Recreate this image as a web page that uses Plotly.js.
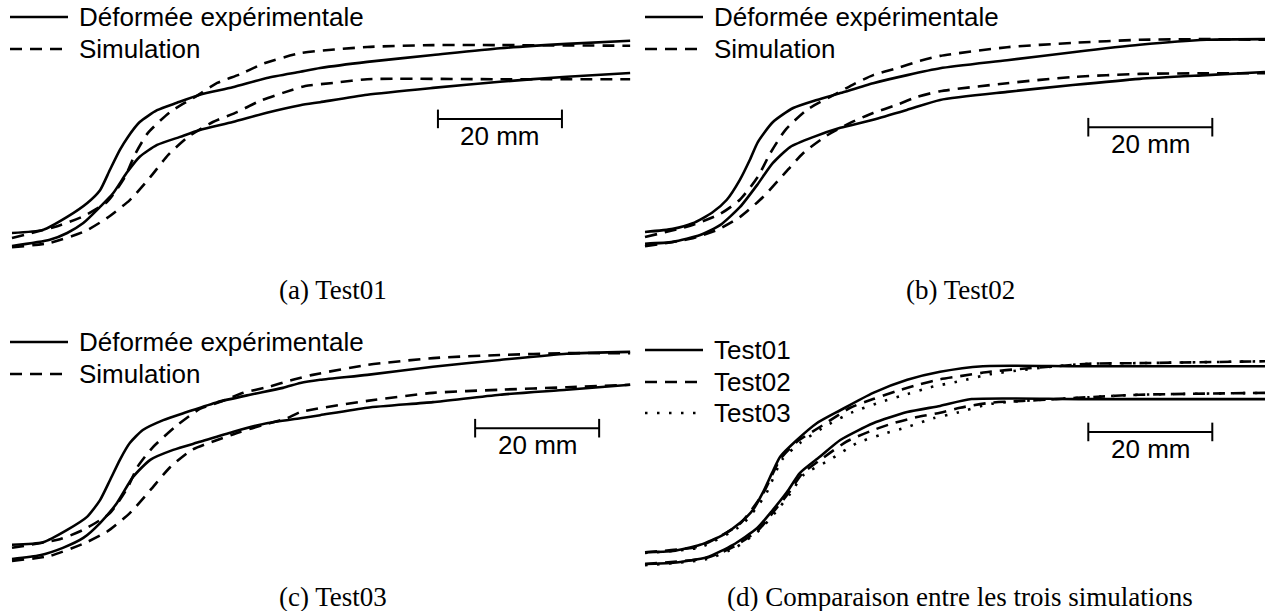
<!DOCTYPE html>
<html>
<head>
<meta charset="utf-8">
<script src="https://cdn.plot.ly/plotly-3.0.1.min.js"></script>
<style>html,body{margin:0;padding:0;background:#fff;}#chart{width:1267px;height:611px;}</style>
</head>
<body>
<div id="chart"></div>
<script>
// ---------- DATA (mm) ----------
// (a) Test01
const a_expTop_x = [0, 5.0, 8.9, 12.1, 14.2, 15.8, 17.4, 18.7, 20.6, 23.4, 26.6, 30.3, 35.6, 41.1, 46.5, 49.7, 57.3, 67.9, 78.7, 89.5, 99.7];
const a_expTop_y = [2.1, 2.6, 4.7, 6.9, 9.0, 12.3, 15.5, 17.6, 20.0, 21.9, 23.1, 24.4, 25.6, 27.1, 28.1, 28.7, 29.7, 30.8, 31.9, 32.6, 33.1];
const a_expBot_x = [0, 6.1, 8.9, 11.5, 14.2, 16.3, 18.5, 20.6, 23.4, 27.1, 30.3, 35.6, 41.1, 46.5, 49.7, 57.3, 67.9, 78.7, 89.5, 99.7];
const a_expBot_y = [0, 1.0, 2.1, 3.7, 6.3, 8.5, 11.8, 14.4, 16.3, 17.6, 18.7, 20.0, 21.5, 22.7, 23.2, 24.4, 25.5, 26.5, 27.3, 27.9];
const a_simTop_x = [0, 7.3, 11.5, 15.3, 18.2, 19.8, 21.9, 25.5, 29.8, 33.1, 36.8, 40.5, 46.5, 57.3, 67.9, 78.7, 99.7];
const a_simTop_y = [1.3, 3.2, 4.8, 7.1, 11.1, 14.7, 18.2, 21.6, 24.2, 26.3, 27.7, 29.4, 31.1, 32.1, 32.4, 32.4, 32.3];
const a_simBot_x = [0, 6.1, 11.8, 15.3, 19.0, 22.3, 25.2, 28.4, 32.4, 36.3, 40.0, 43.7, 47.3, 51.8, 57.3, 78.7, 99.7];
const a_simBot_y = [-0.2, 0.5, 2.4, 4.5, 7.4, 11.1, 14.7, 17.6, 20.0, 21.6, 23.4, 24.7, 25.8, 26.3, 26.9, 26.9, 26.9];
// (b) Test02
const b_expTop_x = [0, 4.5, 7.7, 10.8, 13.2, 15.3, 16.9, 18.2, 20.6, 23.9, 27.7, 31.5, 36.8, 42.3, 47.6, 58.4, 69.0, 79.8, 90.6, 100];
const b_expTop_y = [2.1, 2.6, 3.5, 5.2, 7.3, 10.5, 13.7, 16.6, 19.8, 22.1, 23.4, 24.5, 26.1, 27.4, 28.5, 29.8, 31.1, 32.3, 33.1, 33.2];
const b_expBot_x = [0, 4.5, 8.9, 12.1, 15.3, 18.1, 20.6, 23.4, 27.1, 31.5, 36.8, 42.3, 47.6, 58.4, 69.0, 79.8, 90.6, 100];
const b_expBot_y = [0.2, 0.5, 1.6, 3.2, 6.1, 9.7, 13.2, 15.8, 17.4, 18.9, 20.2, 21.8, 23.4, 24.7, 25.8, 26.8, 27.4, 27.9];
const b_simTop_x = [0, 7.3, 12.1, 15.3, 18.2, 20.2, 22.6, 26.1, 31.0, 33.4, 36.8, 40.6, 44.4, 47.6, 58.4, 69.0, 79.8, 90.6, 100];
const b_simTop_y = [1.3, 3.1, 5.0, 7.3, 11.0, 14.8, 18.5, 21.8, 24.5, 25.8, 27.4, 28.5, 29.7, 30.5, 31.9, 32.6, 33.1, 33.2, 33.1];
const b_simBot_x = [0, 7.3, 11.6, 15.3, 19.0, 22.3, 25.5, 29.4, 33.1, 36.8, 40.6, 43.9, 47.6, 58.4, 69.0, 79.8, 90.6, 100];
const b_simBot_y = [-0.2, 1.0, 2.4, 4.5, 7.7, 11.3, 14.8, 17.7, 19.7, 21.3, 22.6, 23.9, 24.8, 26.1, 27.1, 27.6, 27.7, 27.7];
// (c) Test03
const c_expTop_x = [0, 5.0, 8.9, 12.1, 14.2, 15.8, 17.4, 19.0, 21.1, 24.4, 28.2, 33.1, 38.4, 43.7, 46.5, 49.7, 57.3, 67.9, 78.7, 89.5, 99.7];
const c_expTop_y = [2.3, 2.7, 4.7, 6.8, 9.5, 12.7, 16.0, 18.7, 20.8, 22.4, 23.7, 25.3, 26.5, 27.6, 28.4, 28.9, 29.7, 31.0, 32.1, 33.1, 33.4];
const c_expBot_x = [0, 4.5, 8.2, 11.5, 14.2, 16.9, 19.5, 22.3, 26.0, 30.3, 35.6, 41.1, 46.5, 49.7, 57.3, 67.9, 78.7, 89.5, 99.7];
const c_expBot_y = [0, 0.6, 1.8, 3.4, 5.8, 9.0, 13.2, 16.0, 17.6, 18.9, 20.5, 21.9, 22.7, 23.2, 24.4, 25.3, 26.5, 27.3, 28.1];
const c_simTop_x = [0, 7.7, 11.5, 15.8, 18.7, 20.2, 22.6, 26.3, 30.3, 33.5, 37.3, 41.1, 45.3, 48.5, 57.3, 67.9, 78.7, 89.5, 99.7];
const c_simTop_y = [1.8, 3.2, 4.7, 7.4, 11.6, 14.8, 17.9, 21.3, 24.2, 25.3, 26.8, 27.7, 28.9, 29.7, 31.3, 32.4, 32.9, 33.2, 33.2];
const c_simBot_x = [0, 6.1, 11.8, 15.3, 19.0, 22.3, 25.5, 29.0, 33.1, 36.8, 40.5, 44.4, 46.5, 57.3, 67.9, 78.7, 89.5, 99.7];
const c_simBot_y = [-0.3, 0.5, 2.6, 4.4, 7.4, 11.1, 14.8, 17.6, 19.2, 20.5, 21.6, 22.7, 23.7, 25.5, 26.8, 27.3, 27.7, 28.1];
// (d) Comparaison entre les trois simulations
const d_t1Top_x = [0, 4.5, 8.9, 12.6, 15.3, 17.4, 19.0, 20.5, 21.8, 24.5, 27.7, 31.5, 36.8, 42.3, 47.6, 54.5, 70, 100];
const d_t1Top_y = [1.9, 2.1, 3.1, 4.7, 6.6, 8.7, 11.5, 14.7, 17.3, 20.0, 22.7, 24.8, 27.6, 29.7, 31.0, 31.9, 31.9, 31.9];
const d_t1Bot_x = [0, 4.5, 10.0, 14.2, 18.1, 20.6, 22.9, 25.0, 28.2, 31.5, 36.8, 42.3, 47.6, 52.7, 70, 100];
const d_t1Bot_y = [0, 0.2, 1.1, 3.1, 5.8, 8.7, 11.6, 14.7, 17.3, 20.0, 22.7, 24.5, 25.5, 26.6, 26.6, 26.6];
const d_t2Top_x = [0, 8.9, 15.3, 19.0, 21.8, 24.5, 28.7, 33.1, 36.8, 40.6, 44.4, 47.6, 50.8, 55.6, 60.9, 66.3, 71.6, 79.7, 100];
const d_t2Top_y = [1.9, 2.9, 6.5, 11.3, 16.9, 19.7, 22.4, 25.2, 26.6, 27.9, 29.0, 29.8, 30.3, 31.0, 31.5, 31.9, 32.3, 32.4, 32.7];
const d_t2Bot_x = [0, 10.0, 14.5, 18.4, 20.8, 23.2, 25.3, 28.7, 32.6, 36.8, 40.0, 43.9, 47.6, 50.8, 55.6, 60.9, 66.3, 71.6, 79.7, 100];
const d_t2Bot_y = [0, 1.0, 2.9, 5.6, 8.5, 11.5, 14.5, 17.1, 19.8, 21.6, 22.7, 23.7, 24.4, 25.2, 26.0, 26.3, 26.6, 26.9, 27.3, 27.6];
const d_t3Top_x = [0, 8.9, 15.6, 19.4, 22.1, 25.0, 29.4, 33.5, 38.0, 42.3, 46.0, 50.8, 55.6, 60.9, 66.3, 71.6, 79.7, 100];
const d_t3Top_y = [1.8, 2.7, 6.3, 11.1, 16.8, 19.5, 22.4, 24.5, 26.1, 27.4, 28.5, 29.5, 30.6, 31.3, 31.9, 32.3, 32.4, 32.7];
const d_t3Bot_x = [0, 10.0, 14.7, 18.5, 21.1, 23.4, 25.6, 29.8, 34.2, 37.9, 42.3, 46.5, 50.3, 55.6, 60.9, 66.3, 71.6, 79.7, 100];
const d_t3Bot_y = [-0.2, 0.8, 2.7, 5.5, 8.4, 11.3, 14.4, 16.8, 19.5, 20.8, 22.1, 23.5, 24.4, 25.8, 26.3, 26.6, 26.9, 27.3, 27.6];

// labels
const legendExpSim = ["Déformée expérimentale", "Simulation"];
const legendTests = ["Test01", "Test02", "Test03"];
const captions = ["(a) Test01", "(b) Test02", "(c) Test03", "(d) Comparaison entre les trois simulations"];
const scaleLabel = "20 mm";
const scaleLength = 20; // mm

// ---------- LAYOUT (pixel geometry) ----------
const W = 1267, H = 611, S = 6.2; // px per mm
const panels = [
  {X0: 12,  Y0: 246, L: 0,   R: 640,  T: 0,   B: 300, bar: 68.7, barY: 20.5, leg: {x0: 10,  y: [17, 49]},        cap: {x: 333, y: 290}},
  {X0: 645, Y0: 245, L: 640, R: 1267, T: 0,   B: 300, bar: 71.5, barY: 19.0, leg: {x0: 645, y: [17, 49]},        cap: {x: 960, y: 290}},
  {X0: 12,  Y0: 559, L: 0,   R: 640,  T: 300, B: 611, bar: 74.7, barY: 21.1, leg: {x0: 10,  y: [342, 374]},      cap: {x: 333, y: 597}},
  {X0: 645, Y0: 564, L: 640, R: 1267, T: 300, B: 611, bar: 71.5, barY: 21.3, leg: {x0: 645, y: [350, 382, 413]}, cap: {x: 960, y: 597}}
];
const SOLID = 'solid', DASH = '12px,8px', DOT = '2.5px,9.5px';
const LW = 2.6;

const layout = {
  width: W, height: H, margin: {l: 0, r: 0, t: 0, b: 0},
  paper_bgcolor: '#fff', plot_bgcolor: 'rgba(0,0,0,0)',
  showlegend: false, shapes: [], annotations: []
};
panels.forEach((p, i) => {
  const n = i === 0 ? '' : String(i + 1);
  layout['xaxis' + n] = {domain: [p.L / W, p.R / W], range: [(p.L - p.X0) / S, (p.R - p.X0) / S],
    visible: false, fixedrange: true, anchor: 'y' + n};
  layout['yaxis' + n] = {domain: [1 - p.B / H, 1 - p.T / H], range: [(p.Y0 - p.B) / S, (p.Y0 - p.T) / S],
    visible: false, fixedrange: true, anchor: 'x' + n};
});

const traces = [];
function addLine(panelIdx, xs, ys, dash, name) {
  const n = panelIdx === 0 ? '' : String(panelIdx + 1);
  traces.push({type: 'scatter', mode: 'lines', x: xs, y: ys, name: name, xaxis: 'x' + n, yaxis: 'y' + n,
    line: {color: '#000', width: LW, dash: dash, shape: 'spline', smoothing: 0.6}, hoverinfo: 'skip'});
}
addLine(0, a_simTop_x, a_simTop_y, DASH, legendExpSim[1]);
addLine(0, a_simBot_x, a_simBot_y, DASH, legendExpSim[1]);
addLine(0, a_expTop_x, a_expTop_y, SOLID, legendExpSim[0]);
addLine(0, a_expBot_x, a_expBot_y, SOLID, legendExpSim[0]);
addLine(1, b_simTop_x, b_simTop_y, DASH, legendExpSim[1]);
addLine(1, b_simBot_x, b_simBot_y, DASH, legendExpSim[1]);
addLine(1, b_expTop_x, b_expTop_y, SOLID, legendExpSim[0]);
addLine(1, b_expBot_x, b_expBot_y, SOLID, legendExpSim[0]);
addLine(2, c_simTop_x, c_simTop_y, DASH, legendExpSim[1]);
addLine(2, c_simBot_x, c_simBot_y, DASH, legendExpSim[1]);
addLine(2, c_expTop_x, c_expTop_y, SOLID, legendExpSim[0]);
addLine(2, c_expBot_x, c_expBot_y, SOLID, legendExpSim[0]);
addLine(3, d_t3Top_x, d_t3Top_y, DOT, legendTests[2]);
addLine(3, d_t3Bot_x, d_t3Bot_y, DOT, legendTests[2]);
addLine(3, d_t2Top_x, d_t2Top_y, DASH, legendTests[1]);
addLine(3, d_t2Bot_x, d_t2Bot_y, DASH, legendTests[1]);
addLine(3, d_t1Top_x, d_t1Top_y, SOLID, legendTests[0]);
addLine(3, d_t1Bot_x, d_t1Bot_y, SOLID, legendTests[0]);

const sansFont = {family: 'Liberation Sans, Arial, sans-serif', size: 26, color: '#000'};
const serifFont = {family: 'Liberation Serif, Times New Roman, serif', size: 27, color: '#000'};
const px = v => v / W, py = v => 1 - v / H;

panels.forEach((p, i) => {
  const n = i === 0 ? '' : String(i + 1);
  const xr = 'x' + n, yr = 'y' + n;
  // scale bar
  const bl = {color: '#000', width: 2};
  layout.shapes.push({type: 'line', xref: xr, yref: yr, x0: p.bar, x1: p.bar + scaleLength, y0: p.barY, y1: p.barY, line: bl});
  layout.shapes.push({type: 'line', xref: xr, yref: yr, x0: p.bar, x1: p.bar, y0: p.barY - 1.5, y1: p.barY + 1.5, line: bl});
  layout.shapes.push({type: 'line', xref: xr, yref: yr, x0: p.bar + scaleLength, x1: p.bar + scaleLength, y0: p.barY - 1.5, y1: p.barY + 1.5, line: bl});
  layout.annotations.push({xref: xr, yref: yr, x: p.bar + scaleLength / 2, y: p.barY, yshift: -17, text: scaleLabel,
    showarrow: false, xanchor: 'center', yanchor: 'middle', font: sansFont});
  // legend
  const labels = i === 3 ? legendTests : legendExpSim;
  const dashes = i === 3 ? [SOLID, DASH, DOT] : [SOLID, DASH];
  labels.forEach((lab, k) => {
    const yy = p.leg.y[k];
    layout.shapes.push({type: 'line', xref: 'paper', yref: 'paper', x0: px(p.leg.x0), x1: px(p.leg.x0 + 58), y0: py(yy), y1: py(yy),
      line: {color: '#000', width: LW, dash: dashes[k]}});
    layout.annotations.push({xref: 'paper', yref: 'paper', x: px(p.leg.x0 + 67), y: py(yy), text: lab, showarrow: false,
      xanchor: 'left', yanchor: 'middle', font: sansFont});
  });
  // caption
  layout.annotations.push({xref: 'paper', yref: 'paper', x: px(p.cap.x), y: py(p.cap.y), text: captions[i], showarrow: false,
    xanchor: 'center', yanchor: 'middle', font: serifFont});
});

Plotly.newPlot('chart', traces, layout, {staticPlot: true, displayModeBar: false});
</script>
</body>
</html>
